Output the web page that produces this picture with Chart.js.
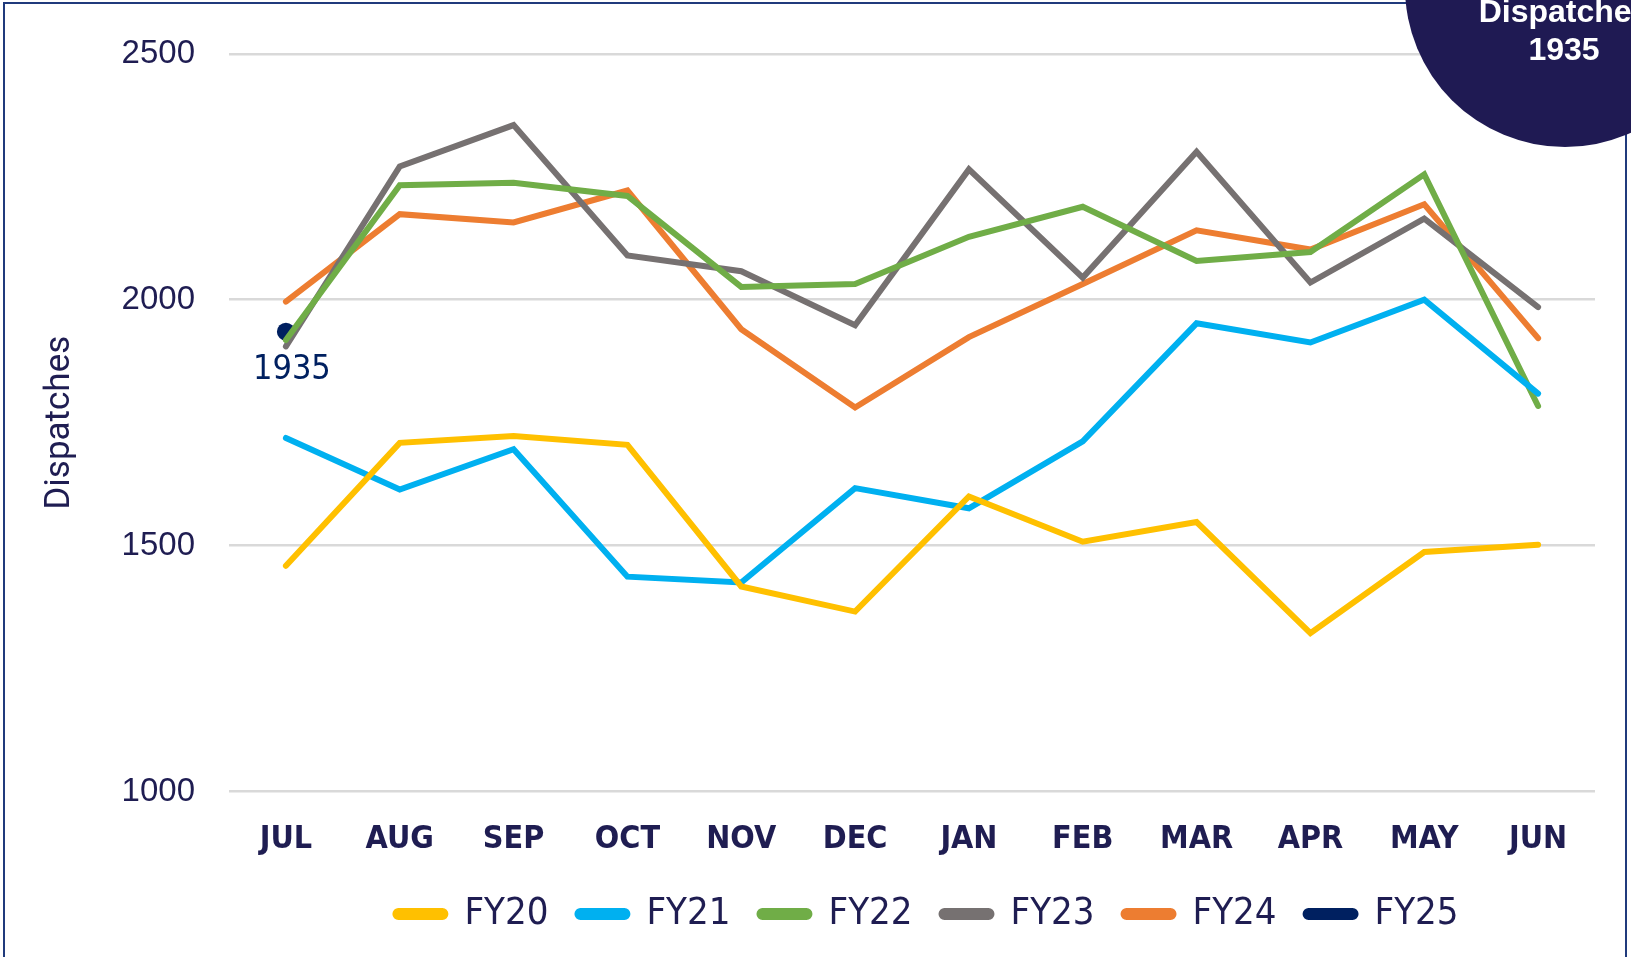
<!DOCTYPE html>
<html>
<head>
<meta charset="utf-8">
<title>Dispatches by month</title>
<script src="https://cdn.jsdelivr.net/npm/chart.js@4.4.1/dist/chart.umd.min.js"></script>
<style>
  html, body { margin: 0; padding: 0; background: #ffffff; overflow: hidden; }
  canvas { display: block; }
</style>
</head>
<body>
<canvas id="dispatchChart" width="1631" height="957"></canvas>
<script>
// Months of the fiscal year (Jul - Jun)
const months = ['JUL', 'AUG', 'SEP', 'OCT', 'NOV', 'DEC', 'JAN', 'FEB', 'MAR', 'APR', 'MAY', 'JUN'];

// Monthly dispatches, one array per fiscal year
const fy20 = [1459, 1709, 1723, 1705, 1417, 1366, 1600, 1508, 1548, 1322, 1487, 1502];
const fy21 = [1719, 1614, 1696, 1437, 1425, 1617, 1576, 1712, 1952, 1913, 2000, 1809];
const fy22 = [1918, 2233, 2238, 2211, 2026, 2032, 2128, 2189, 2079, 2097, 2255, 1784];
const fy23 = [1905, 2271, 2355, 2090, 2058, 1948, 2265, 2045, 2301, 2035, 2165, 1985];
const fy24 = [1996, 2174, 2157, 2222, 1940, 1781, 1924, 2032, 2141, 2102, 2194, 1922];
const fy25 = [1935, null, null, null, null, null, null, null, null, null, null, null];

const yTicks = [1000, 1500, 2000, 2500];
const currentValue = 1935;

const navy = '#1F1D52';
const narrow = '"Liberation Sans Narrow", "DejaVu Sans Condensed", "Roboto Condensed", "Liberation Sans", sans-serif';

function series(label, data, color) {
    return {
        label: label,
        data: data,
        borderColor: color,
        backgroundColor: color,
        borderWidth: 6,
        borderCapStyle: 'round',
        pointRadius: 0,
        tension: 0,
        spanGaps: false
    };
}

// Border, corner badge and the value label of the current year
const decorations = {
    id: 'decorations',
    afterLayout(chart) {
        // legend sits a little right of the plot centre
        chart.legend.left += 15;
        chart.legend.right += 15;
    },
    afterDraw(chart) {
        const ctx = chart.ctx;
        ctx.save();

        // frame
        ctx.strokeStyle = '#203A7C';
        ctx.lineWidth = 2;
        ctx.strokeRect(4, 3, 1622, 970);

        // value label under the FY25 point
        const pt = chart.getDatasetMeta(5).data[0];
        ctx.fillStyle = '#002060';
        ctx.font = '34px ' + narrow;
        ctx.textAlign = 'center';
        ctx.textBaseline = 'middle';
        ctx.fillText(String(currentValue), pt.x + 6, pt.y + 38);

        // corner badge
        ctx.fillStyle = '#1F1A53';
        ctx.beginPath();
        ctx.arc(1565, -13, 160, 0, Math.PI * 2);
        ctx.fill();
        ctx.fillStyle = '#ffffff';
        ctx.font = 'bold 32px "Liberation Sans", Arial, sans-serif';
        ctx.fillText('Dispatches', 1564, 13);
        ctx.fillText(String(currentValue), 1564, 51);

        ctx.restore();
    }
};

const ctx = document.getElementById('dispatchChart').getContext('2d');

const dispatchChart = new Chart(ctx, {
    type: 'line',
    data: {
        labels: months,
        datasets: [
            series('FY20', fy20, '#FFC000'),
            series('FY21', fy21, '#00B0F0'),
            series('FY22', fy22, '#70AD47'),
            series('FY23', fy23, '#767171'),
            series('FY24', fy24, '#ED7D31'),
            Object.assign(series('FY25', fy25, '#002060'), { pointRadius: 9, pointBackgroundColor: '#002060', pointBorderWidth: 0 })
        ]
    },
    options: {
        responsive: false,
        animation: false,
        layout: {
            padding: { top: 51, right: 36, left: 0, bottom: 14 }
        },
        scales: {
            x: {
                offset: true,
                grid: { display: false },
                border: { display: false },
                afterFit(scale) {
                    scale.height -= 14;
                },
                ticks: {
                    color: navy,
                    font: { family: narrow, size: 32, weight: 'bold' },
                    padding: 21,
                    maxRotation: 0,
                    autoSkip: false
                }
            },
            y: {
                min: 1000,
                max: 2500,
                afterBuildTicks(scale) {
                    scale.ticks = yTicks.map(v => ({ value: v }));
                },
                afterFit(scale) {
                    scale.width = 229;
                },
                grid: { color: '#D9D9D9', lineWidth: 2.5, drawTicks: false },
                border: { display: false },
                ticks: {
                    color: navy,
                    font: { family: '"Liberation Sans", Arial, sans-serif', size: 33 },
                    padding: 34,
                    callback: v => String(v)
                },
                title: {
                    display: true,
                    text: 'Dispatches',
                    color: navy,
                    font: { family: 'Roboto, "Liberation Sans", sans-serif', size: 35 },
                    padding: { top: 39, bottom: 0 }
                }
            }
        },
        plugins: {
            legend: {
                position: 'bottom',
                fullSize: false,
                labels: {
                    color: navy,
                    font: { family: narrow, size: 38 },
                    boxWidth: 50,
                    boxHeight: 6,
                    useBorderRadius: true,
                    borderRadius: 3,
                    padding: 29
                }
            },
            tooltip: { enabled: false }
        }
    },
    plugins: [decorations]
});
</script>
</body>
</html>
